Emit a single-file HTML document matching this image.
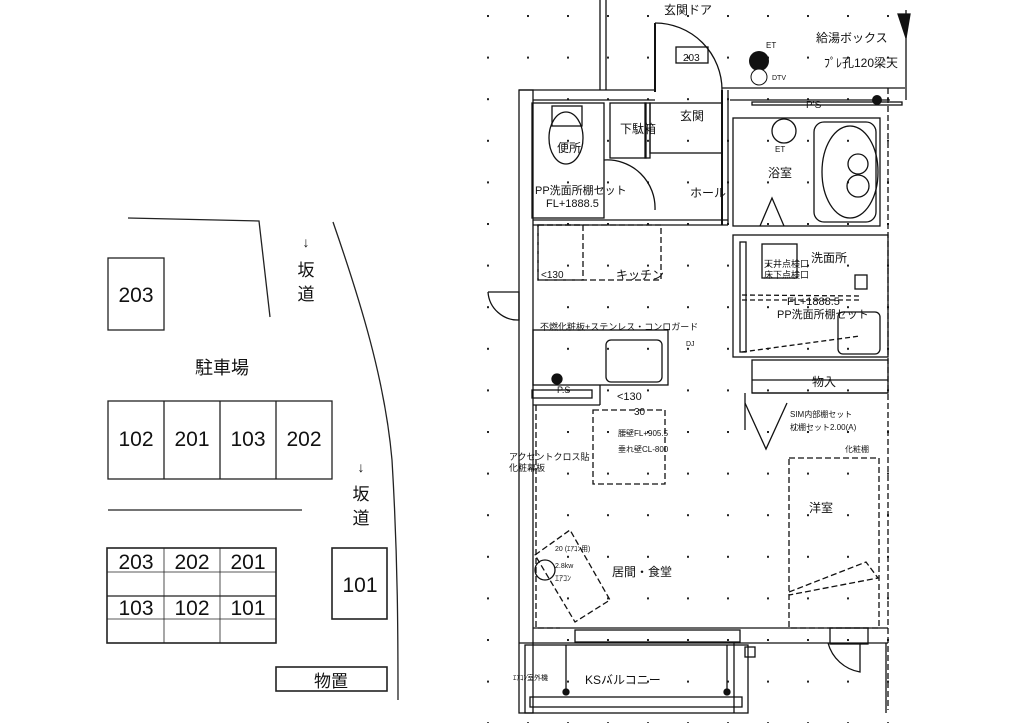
<!DOCTYPE html>
<html><head><meta charset="utf-8"><style>
html,body{margin:0;padding:0;background:#fff;}
svg{display:block;}
text{font-family:"Liberation Sans","Noto Sans CJK JP",sans-serif;fill:#111;}
</style></head><body>
<svg width="1024" height="723" viewBox="0 0 1024 723" xmlns="http://www.w3.org/2000/svg">
<defs>
<pattern id="dots" x="487" y="15" width="40" height="41.6" patternUnits="userSpaceOnUse">
<rect x="0" y="0" width="2" height="2" fill="#222"/>
</pattern>
</defs>
<rect width="1024" height="723" fill="#fff"/>
<!-- LEFT: parking -->
<g stroke="#222" stroke-width="1.3" fill="none">
<polyline points="128,218 259,221 270,317"/>
<path d="M333,222 C360,300 385,380 392,460 C398,560 398,640 398,700"/>
<rect x="108" y="258" width="56" height="72"/>
<rect x="108" y="401" width="224" height="78"/>
<line x1="164" y1="401" x2="164" y2="479"/><line x1="220" y1="401" x2="220" y2="479"/><line x1="276" y1="401" x2="276" y2="479"/>
<line x1="108" y1="510" x2="302" y2="510"/>
<rect x="107" y="548" width="169" height="95" stroke-width="1.6"/>
<line x1="107" y1="572" x2="276" y2="572" stroke-width="0.8"/><line x1="107" y1="596" x2="276" y2="596"/><line x1="107" y1="619" x2="276" y2="619" stroke-width="0.8"/>
<line x1="164" y1="548" x2="164" y2="643" stroke-width="0.8"/><line x1="220" y1="548" x2="220" y2="643" stroke-width="0.8"/>
<rect x="332" y="548" width="55" height="71" stroke-width="1.6"/>
<rect x="276" y="667" width="111" height="24" stroke-width="1.6"/>
</g>
<g font-size="21" text-anchor="middle">
<text x="136" y="302">203</text>
<text x="136" y="446">102</text><text x="192" y="446">201</text><text x="248" y="446">103</text><text x="304" y="446">202</text>
<text x="136" y="569">203</text><text x="192" y="569">202</text><text x="248" y="569">201</text>
<text x="136" y="615">103</text><text x="192" y="615">102</text><text x="248" y="615">101</text>
<text x="360" y="592">101</text>
</g>
<text x="222" y="374" font-size="18" text-anchor="middle">駐車場</text>
<text x="331" y="687" font-size="17" text-anchor="middle">物置</text>
<g font-size="17" text-anchor="middle">
<text x="306" y="247" font-size="14">↓</text><text x="306" y="276">坂</text><text x="306" y="300">道</text>
<text x="361" y="472" font-size="14">↓</text><text x="361" y="500">坂</text><text x="361" y="524">道</text>
</g>
<!-- RIGHT: floor plan -->
<rect x="480" y="0" width="420" height="723" fill="url(#dots)"/>
<g stroke="#111" fill="none" stroke-width="1.3">
<!-- outer walls -->
<line x1="600" y1="0" x2="600" y2="90"/><line x1="606" y1="0" x2="606" y2="90"/>
<rect x="519" y="90" width="14" height="623" fill="#fff"/>
<polyline points="519,90 655,90"/><polyline points="533,100 655,100"/>
<polyline points="722,88 905,88"/><polyline points="730,100 890,100"/>
<rect x="752" y="102" width="150" height="3"/>
<line x1="888" y1="88" x2="888" y2="710" stroke-dasharray="6,3"/>
<line x1="906" y1="10" x2="906" y2="100"/>
<polygon points="898,14 910,14 906,38" fill="#111"/>
<!-- entry door -->
<line x1="655" y1="23" x2="655" y2="92" stroke-width="2"/>
<path d="M655,23 A67,67 0 0 1 722,90"/>
<rect x="676" y="47" width="32" height="16"/>
<!-- toilet -->
<rect x="532" y="103" width="72" height="115"/>
<ellipse cx="566" cy="138" rx="17" ry="26"/>
<rect x="552" y="106" width="30" height="20"/>
<path d="M604,160 A48,48 0 0 1 655,210"/>
<!-- shoe box / genkan -->
<rect x="610" y="103" width="36" height="55"/>
<rect x="645" y="103" width="5" height="55"/>
<rect x="650" y="103" width="72" height="50"/>
<line x1="722" y1="90" x2="722" y2="225" stroke-width="2"/><line x1="728" y1="90" x2="728" y2="225"/>
<!-- hall bottom/kitchen wall -->
<line x1="533" y1="220" x2="728" y2="220"/><line x1="533" y1="225" x2="728" y2="225"/>
<!-- bath -->
<rect x="733" y="118" width="147" height="108"/>
<rect x="814" y="122" width="62" height="100" rx="10"/>
<ellipse cx="850" cy="172" rx="28" ry="46"/>
<circle cx="858" cy="164" r="10"/><circle cx="858" cy="186" r="11"/>
<polyline points="760,226 772,198 784,226"/>
<circle cx="784" cy="131" r="12"/>
<!-- wash room -->
<rect x="733" y="235" width="155" height="122"/>
<rect x="740" y="242" width="6" height="110"/>
<rect x="762" y="244" width="35" height="34"/>
<rect x="855" y="275" width="12" height="14"/>
<rect x="838" y="312" width="42" height="42" rx="5"/>
<path d="M742,352 L860,336" stroke-dasharray="5,3"/>
<path d="M742,295 L860,296 M742,300 L860,300" stroke-dasharray="5,3"/>
<!-- storage -->
<rect x="752" y="360" width="136" height="33"/>
<line x1="752" y1="380" x2="888" y2="380"/>
<line x1="752" y1="393" x2="888" y2="393"/>
<polyline points="745,403 766,449 787,403"/>
<line x1="745" y1="393" x2="745" y2="430"/>
<!-- kitchen -->
<rect x="538" y="225" width="123" height="55" stroke-dasharray="6,3"/>
<rect x="538" y="225" width="45" height="55" stroke-dasharray="6,3"/>
<rect x="533" y="330" width="135" height="55"/>
<rect x="606" y="340" width="56" height="42" rx="5"/>
<rect x="532" y="390" width="60" height="8"/>
<line x1="533" y1="405" x2="600" y2="405"/>
<line x1="600" y1="385" x2="600" y2="405"/>
<circle cx="557" cy="379" r="5" fill="#111"/>
<!-- side door left -->
<path d="M488,292 L519,292 L519,320 A30,30 0 0 1 488,292"/>
<!-- dining table -->
<rect x="593" y="410" width="72" height="74" stroke-dasharray="6,3"/>
<!-- living dashed boundary -->
<polyline points="536,405 536,628 560,628" stroke-dasharray="6,3"/>
<!-- AC -->
<polygon points="535,555 570,530 610,600 575,622" stroke-dasharray="6,3"/>
<circle cx="545" cy="570" r="10"/>
<!-- bedroom -->
<rect x="789" y="458" width="90" height="170" stroke-dasharray="6,3"/>
<polyline points="789,592 866,562 878,578 789,595" stroke-dasharray="6,3"/>
<!-- floor bottom -->
<line x1="533" y1="628" x2="888" y2="628"/>
<line x1="519" y1="643" x2="888" y2="643"/>
<rect x="575" y="630" width="165" height="12"/>
<rect x="830" y="628" width="38" height="16"/>
<path d="M828,643 A40,40 0 0 0 860,672 L860,643"/>
<!-- balcony -->
<rect x="525" y="645" width="223" height="68"/>
<rect x="530" y="697" width="212" height="10"/>
<line x1="566" y1="645" x2="566" y2="692"/><line x1="727" y1="645" x2="727" y2="692"/>
<circle cx="566" cy="692" r="3" fill="#111"/><circle cx="727" cy="692" r="3" fill="#111"/>
<line x1="734" y1="643" x2="734" y2="713"/><line x1="886" y1="643" x2="886" y2="713"/>
<rect x="745" y="647" width="10" height="10"/>
<!-- ET circles -->
<circle cx="760" cy="78" r="4" fill="#111"/>
</g>
<circle cx="759" cy="61" r="10" fill="#111"/>
<circle cx="759" cy="77" r="8" fill="#fff" stroke="#111"/>
<circle cx="877" cy="100" r="5" fill="#111"/>
<g font-size="12">
<text x="664" y="14">玄関ドア</text>
<text x="683" y="61" font-size="10">203</text>
<text x="766" y="48" font-size="8">ET</text>
<text x="772" y="80" font-size="7">DTV</text>
<text x="816" y="42">給湯ボックス</text>
<text x="824" y="67">ﾌﾟﾚ孔120梁天</text>
<text x="680" y="120">玄関</text>
<text x="620" y="133">下駄箱</text>
<text x="557" y="152">便所</text>
<text x="535" y="194" font-size="11">PP洗面所棚セット</text>
<text x="546" y="207" font-size="11">FL+1888.5</text>
<text x="690" y="197">ホール</text>
<text x="768" y="177">浴室</text>
<text x="811" y="262">洗面所</text>
<text x="616" y="279">キッチン</text>
<text x="540" y="330" font-size="9">不燃化粧板+ステンレス・コンロガード</text>
<text x="764" y="267" font-size="9">天井点検口</text>
<text x="764" y="278" font-size="9">床下点検口</text>
<text x="787" y="305" font-size="11">FL+1888.5</text>
<text x="777" y="318" font-size="11">PP洗面所棚セット</text>
<text x="812" y="386">物入</text>
<text x="790" y="417" font-size="8">SIM内部棚セット</text>
<text x="790" y="430" font-size="8">枕棚セット2.00(A)</text>
<text x="845" y="452" font-size="8">化粧棚</text>
<text x="557" y="393" font-size="9">P.S</text>
<text x="617" y="400" font-size="11">&lt;130</text>
<text x="634" y="415" font-size="10">30</text>
<text x="541" y="278" font-size="10">&lt;130</text>
<text x="618" y="436" font-size="8">腰壁FL+905.5</text>
<text x="618" y="452" font-size="8">垂れ壁CL-800</text>
<text x="509" y="460" font-size="9">アクセントクロス貼</text>
<text x="509" y="471" font-size="9">化粧幕板</text>
<text x="809" y="512">洋室</text>
<text x="612" y="576">居間・食堂</text>
<text x="555" y="551" font-size="7">20 (ｴｱｺﾝ用)</text>
<text x="555" y="568" font-size="7">2.8kw</text>
<text x="555" y="581" font-size="8">ｴｱｺﾝ</text>
<text x="585" y="684">KSバルコニー</text>
<text x="513" y="680" font-size="7">ｴｱｺﾝ室外機</text>
<text x="806" y="108" font-size="10">P'S</text>
<text x="775" y="152" font-size="8">ET</text>
<text x="686" y="346" font-size="7">DJ</text>
</g>
</svg>
</body></html>
